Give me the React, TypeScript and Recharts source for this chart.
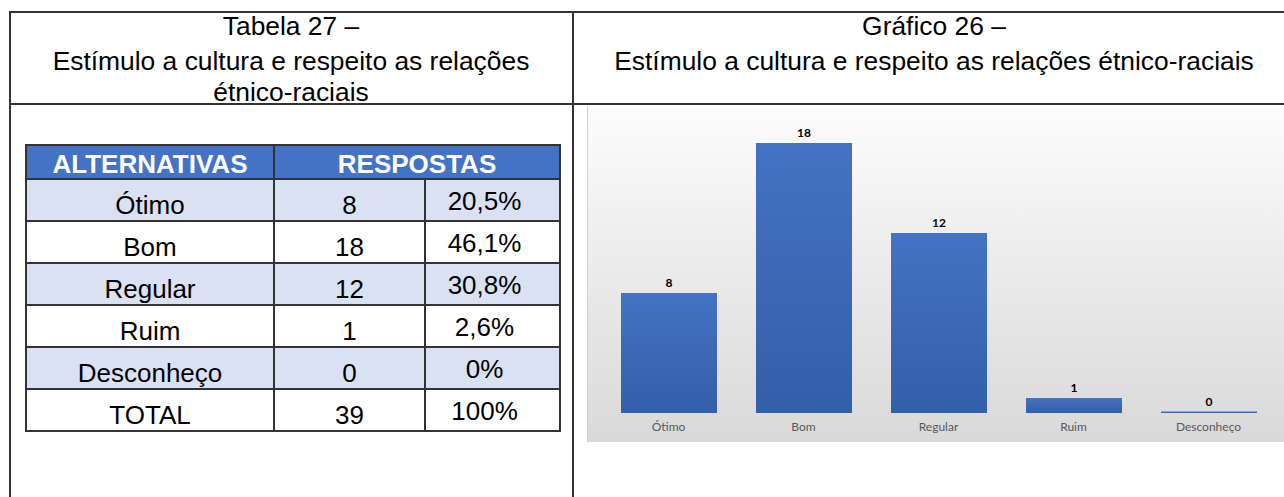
import React from "react";
import { BarChart, Bar, XAxis, YAxis, LabelList } from "recharts";

const categories = ["Ótimo", "Bom", "Regular", "Ruim", "Desconheço"];
const counts = [8, 18, 12, 1, 0];
const percents = ["20,5%", "46,1%", "30,8%", "2,6%", "0%"];
const totalLabel = "TOTAL";
const totalCount = 39;
const totalPercent = "100%";
const leftTitle = ["Tabela 27 –", "Estímulo a cultura e respeito as relações", "étnico-raciais"];
const rightTitle = ["Gráfico 26 –", "Estímulo a cultura e respeito as relações étnico-raciais"];

const chartData = categories.map((name, i) => ({ name, value: counts[i] }));

const LINE = "#333";
const FONT = "'Liberation Sans', Arial, sans-serif";

function TitleLine({ text, center, baseline }: { text: string; center: number; baseline: number }) {
  return (
    <div
      style={{
        position: "absolute",
        left: center - 400,
        width: 800,
        top: baseline - 21.8,
        fontSize: 26.4,
        lineHeight: "26px",
        textAlign: "center",
        fontFamily: FONT,
        color: "#000",
        whiteSpace: "nowrap",
      }}
    >
      {text}
    </div>
  );
}

const ROW_H = 42;

function DataTable() {
  const rows = categories.map((c, i) => ({ c, n: String(counts[i]), p: percents[i], shade: i % 2 === 0 }));
  rows.push({ c: totalLabel, n: String(totalCount), p: totalPercent, shade: false });
  const cellBase: React.CSSProperties = {
    border: `2px solid ${LINE}`,
    fontFamily: FONT,
    fontSize: 26,
    lineHeight: "26px",
    textAlign: "center",
    verticalAlign: "bottom",
    padding: 0,
    color: "#000",
  };
  return (
    <table
      style={{
        position: "absolute",
        left: 25,
        top: 144,
        borderCollapse: "collapse",
        tableLayout: "fixed",
        width: 534,
      }}
    >
      <colgroup>
        <col style={{ width: 248 }} />
        <col style={{ width: 151 }} />
        <col style={{ width: 135 }} />
      </colgroup>
      <tbody>
        <tr style={{ height: 34 }}>
          <td style={{ ...cellBase, background: "#4472C4", color: "#fff", fontWeight: "bold", paddingBottom: 1 }}>
            ALTERNATIVAS
          </td>
          <td colSpan={2} style={{ ...cellBase, background: "#4472C4", color: "#fff", fontWeight: "bold", paddingBottom: 1 }}>
            RESPOSTAS
          </td>
        </tr>
        {rows.map((r, i) => (
          <tr key={i} style={{ height: ROW_H }}>
            <td style={{ ...cellBase, background: r.shade ? "#D9E1F2" : "#fff", paddingBottom: 2 }}>{r.c}</td>
            <td style={{ ...cellBase, background: r.shade ? "#D9E1F2" : "#fff", paddingBottom: 2 }}>{r.n}</td>
            <td style={{ ...cellBase, background: r.shade ? "#D9E1F2" : "#fff", paddingBottom: 6, paddingRight: 16 }}>{r.p}</td>
          </tr>
        ))}
      </tbody>
    </table>
  );
}

function Chart() {
  return (
    <div
      style={{
        position: "absolute",
        left: 587,
        top: 106,
        width: 697,
        height: 336,
        background: "linear-gradient(to bottom, #FCFCFC 0%, #D9D9D9 100%)",
        borderLeft: "1px solid #D0D0D0",
        boxSizing: "border-box",
      }}
    >
      <BarChart
        width={696}
        height={336}
        data={chartData}
        margin={{ top: 7, right: 8, left: 13, bottom: 0 }}
      >
        <defs>
          <linearGradient id="barGrad" x1="0" y1="0" x2="0" y2="1">
            <stop offset="0%" stopColor="#4472C4" />
            <stop offset="100%" stopColor="#345EA8" />
          </linearGradient>
        </defs>
        <XAxis
          dataKey="name"
          axisLine={false}
          tickLine={false}
          height={29}
          tickMargin={3}
          interval={0}
          tick={{ fill: "#595959", fontSize: 12, fontFamily: "Lato, 'Open Sans', sans-serif" }}
        />
        <YAxis hide domain={[0, 20]} />
        <Bar dataKey="value" fill="url(#barGrad)" barSize={96} minPointSize={1.5} isAnimationActive={false}>
          <LabelList
            dataKey="value"
            position="top"
            offset={6}
            style={{ fill: "#000", fontSize: 12, fontWeight: "bold", fontFamily: "Lato, 'Open Sans', sans-serif" }}
          />
        </Bar>
      </BarChart>
    </div>
  );
}

export default function App() {
  return (
    <div
      style={{
        position: "absolute",
        left: 0,
        top: 0,
        width: 1284,
        height: 497,
        background: "#fff",
        overflow: "hidden",
      }}
    >
      <div style={{ position: "absolute", left: 9, top: 11, width: 1275, height: 2, background: LINE }} />
      <div style={{ position: "absolute", left: 9, top: 103, width: 1275, height: 2, background: LINE }} />
      <div style={{ position: "absolute", left: 9, top: 11, width: 2, height: 486, background: LINE }} />
      <div style={{ position: "absolute", left: 572, top: 11, width: 2, height: 486, background: LINE }} />

      <TitleLine text={leftTitle[0]} center={291} baseline={35} />
      <TitleLine text={leftTitle[1]} center={291} baseline={70} />
      <TitleLine text={leftTitle[2]} center={291} baseline={101} />
      <TitleLine text={rightTitle[0]} center={934} baseline={35} />
      <TitleLine text={rightTitle[1]} center={934} baseline={70} />

      <DataTable />
      <Chart />
    </div>
  );
}
